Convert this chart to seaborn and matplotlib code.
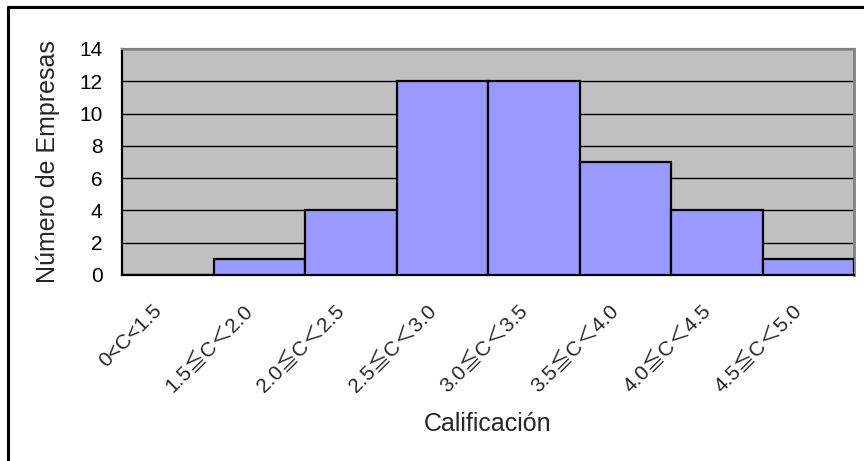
import matplotlib
matplotlib.use("Agg")
import matplotlib.pyplot as plt
import matplotlib.transforms as mtransforms
from matplotlib.lines import Line2D
import seaborn as sns
import pandas as pd

categories = ["0<C<1.5", "1.5≦C＜2.0", "2.0≦C＜2.5", "2.5≦C＜3.0",
              "3.0≦C＜3.5", "3.5≦C＜4.0", "4.0≦C＜4.5", "4.5≦C＜5.0"]
empresas = [0, 1, 4, 12, 12, 7, 4, 1]
y_ticks = [0, 2, 4, 6, 8, 10, 12, 14]

sns.set_theme(style="white")
plt.rcParams["font.family"] = ["Liberation Sans", "Noto Sans CJK JP", "DejaVu Sans"]

df = pd.DataFrame({"Calificación": categories, "Empresas": empresas})

fig = plt.figure(figsize=(8.64, 4.61), dpi=100)
ax = fig.add_axes([122 / 864, 1 - 275 / 461, 732 / 864, 226 / 461])
ax.set_facecolor("#C0C0C0")

sns.barplot(data=df, x="Calificación", y="Empresas", color="#9999FF",
            saturation=1, width=1.0, edgecolor="black", linewidth=1.6,
            ax=ax, zorder=3)

ax.set_xlim(-0.5, len(categories) - 0.5)
ax.set_ylim(0, 14)
ax.set_yticks(y_ticks)
ax.set_yticklabels([str(v) for v in y_ticks], fontsize=15)
ax.yaxis.grid(True, color="black", linewidth=1.0, zorder=0)
ax.set_axisbelow(True)

# rotated category labels, anchored at their right end just below each bar
ax.set_xticks(range(len(categories)))
ax.set_xticklabels([])
shift = mtransforms.ScaledTranslation(-9 / 100, 0, fig.dpi_scale_trans)
for i, cat in enumerate(categories):
    ax.text(i, -0.146, cat, transform=ax.get_xaxis_transform() + shift,
            rotation=45, ha="right", va="center", rotation_mode="anchor",
            fontsize=15, clip_on=False)

ax.tick_params(axis="x", length=0, pad=0)
ax.tick_params(axis="y", length=5, direction="in", pad=14, colors="black")

for side in ("left", "bottom"):
    ax.spines[side].set_color("black")
    ax.spines[side].set_linewidth(1.6)
ax.spines["top"].set_color("#808080")
ax.spines["top"].set_linewidth(1.6)
ax.spines["right"].set_color("#808080")
ax.spines["right"].set_linewidth(2.0)

ax.set_xlabel("Calificación", fontsize=18, labelpad=0)
ax.xaxis.set_label_coords(0.5, -0.605)
ax.set_ylabel("Número de Empresas", fontsize=18)
ax.yaxis.set_label_coords(-0.085, 0.5)

# outer frame (top and left edges)
fig.add_artist(Line2D([8 / 864, 1.0], [1 - 7.5 / 461, 1 - 7.5 / 461],
                      transform=fig.transFigure, color="black", linewidth=2.2))
fig.add_artist(Line2D([8 / 864, 8 / 864], [0.0, 1 - 7.5 / 461],
                      transform=fig.transFigure, color="black", linewidth=2.2))

fig.savefig("out.png", dpi=100, facecolor="white")
